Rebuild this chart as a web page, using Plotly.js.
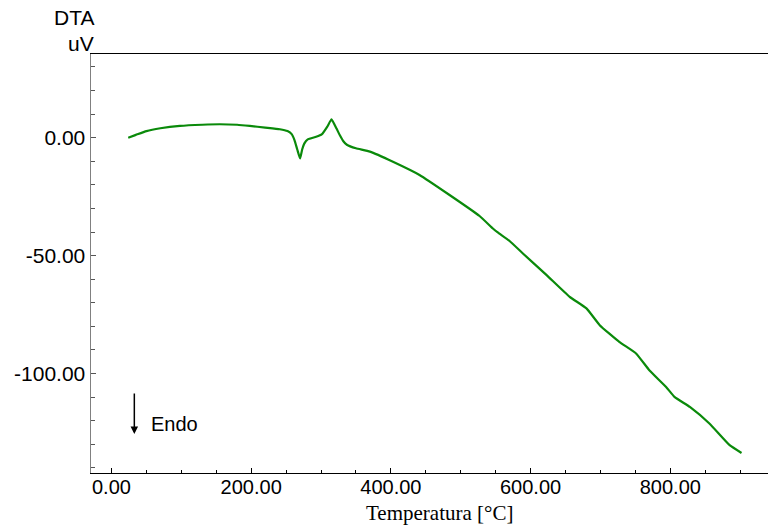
<!DOCTYPE html>
<html>
<head>
<meta charset="utf-8">
<script src="https://cdn.plot.ly/plotly-3.0.1.min.js"></script>
<style>html,body{margin:0;padding:0;background:#fff;}#chart{width:768px;height:531px;}</style>
</head>
<body>
<div id="chart"></div>
<script>
// Temperature (°C) and DTA signal (uV)
const temperature = [24, 35, 50, 70, 98, 130, 155, 180, 198, 220, 241, 252, 258, 262, 266, 270, 273, 276, 281, 293, 301, 309, 315, 322, 327, 332, 337, 350, 370, 403, 441, 484, 527, 546, 553, 570, 589, 623, 656, 680, 699, 727, 751, 770, 794, 806, 828, 856, 885, 902];
const dta = [0, 1.2, 2.8, 4.0, 5.0, 5.5, 5.7, 5.5, 5.0, 4.3, 3.6, 2.8, 1.5, -1.0, -5.0, -8.8, -5.0, -2.5, -0.7, 0.4, 1.4, 4.7, 7.8, 4.0, 1.0, -1.5, -3.0, -4.5, -5.9, -10.2, -15.8, -24.3, -33.2, -38.5, -40.2, -43.8, -49.1, -58.3, -67.5, -72.4, -79.5, -86.6, -91.5, -98.6, -105.7, -109.9, -114.2, -121.2, -130.4, -133.7];

const xTickVals = [0, 200, 400, 600, 800];
const xTickText = ['0.00', '200.00', '400.00', '600.00', '800.00'];
const yTickVals = [0, -50, -100];
const yTickText = ['0.00', '-50.00', '-100.00'];

const sans = 'Liberation Sans, Arial, sans-serif';
const serif = 'Liberation Serif, Times New Roman, serif';

const trace = {
  x: temperature, y: dta, type: 'scatter', mode: 'lines',
  line: {color: '#0a8a0a', width: 2.2, shape: 'spline', smoothing: 0.4},
  hoverinfo: 'skip'
};

const layout = {
  width: 768, height: 531,
  margin: {l: 91, r: 0, t: 54, b: 58},
  paper_bgcolor: '#ffffff', plot_bgcolor: '#ffffff',
  showlegend: false,
  xaxis: {
    range: [-29.3, 939.9], showgrid: false, zeroline: false,
    showline: true, linecolor: '#000', linewidth: 1, mirror: true,
    tickmode: 'array', tickvals: xTickVals, ticktext: xTickText,
    ticks: 'inside', ticklen: 5, tickcolor: '#000', tickwidth: 1,
    minor: {dtick: 50, ticks: 'inside', ticklen: 3, tickcolor: '#000'},
    tickfont: {family: sans, size: 20, color: '#000'},
    ticklabelstandoff: -4
  },
  yaxis: {
    range: [-142.2, 35.5], showgrid: false, zeroline: false,
    showline: true, linecolor: '#808080', linewidth: 1.5, mirror: false,
    tickmode: 'array', tickvals: yTickVals, ticktext: yTickText,
    ticks: 'inside', ticklen: 5, tickcolor: '#555', tickwidth: 1,
    minor: {dtick: 10, ticks: 'inside', ticklen: 4, tickcolor: '#555'},
    tickfont: {family: sans, size: 21, color: '#000'},
    ticklabelstandoff: 0
  },
  annotations: [
    {xref: 'paper', yref: 'paper', x: -0.0251, y: 1.088, text: 'DTA', showarrow: false,
     xanchor: 'center', yanchor: 'middle', font: {family: sans, size: 21, color: '#000'}},
    {xref: 'paper', yref: 'paper', x: -0.015, y: 1.026, text: 'uV', showarrow: false,
     xanchor: 'center', yanchor: 'middle', font: {family: sans, size: 21, color: '#000'}},
    {xref: 'paper', yref: 'paper', x: 0.5148, y: -0.0955, text: 'Temperatura [°C]', showarrow: false,
     xanchor: 'center', yanchor: 'middle', font: {family: serif, size: 21, color: '#000'}},
    {xref: 'paper', yref: 'paper', x: 0.064, y: 0.093, ax: 0, ay: -42, text: '', showarrow: true,
     arrowhead: 2, arrowsize: 1, arrowwidth: 1.5, arrowcolor: '#000'},
    {xref: 'paper', yref: 'paper', x: 0.0857, y: 0.117, text: 'Endo', showarrow: false,
     xanchor: 'left', yanchor: 'middle', font: {family: sans, size: 20, color: '#000'}}
  ]
};

Plotly.newPlot('chart', [trace], layout, {displayModeBar: false, staticPlot: true});
</script>
</body>
</html>
